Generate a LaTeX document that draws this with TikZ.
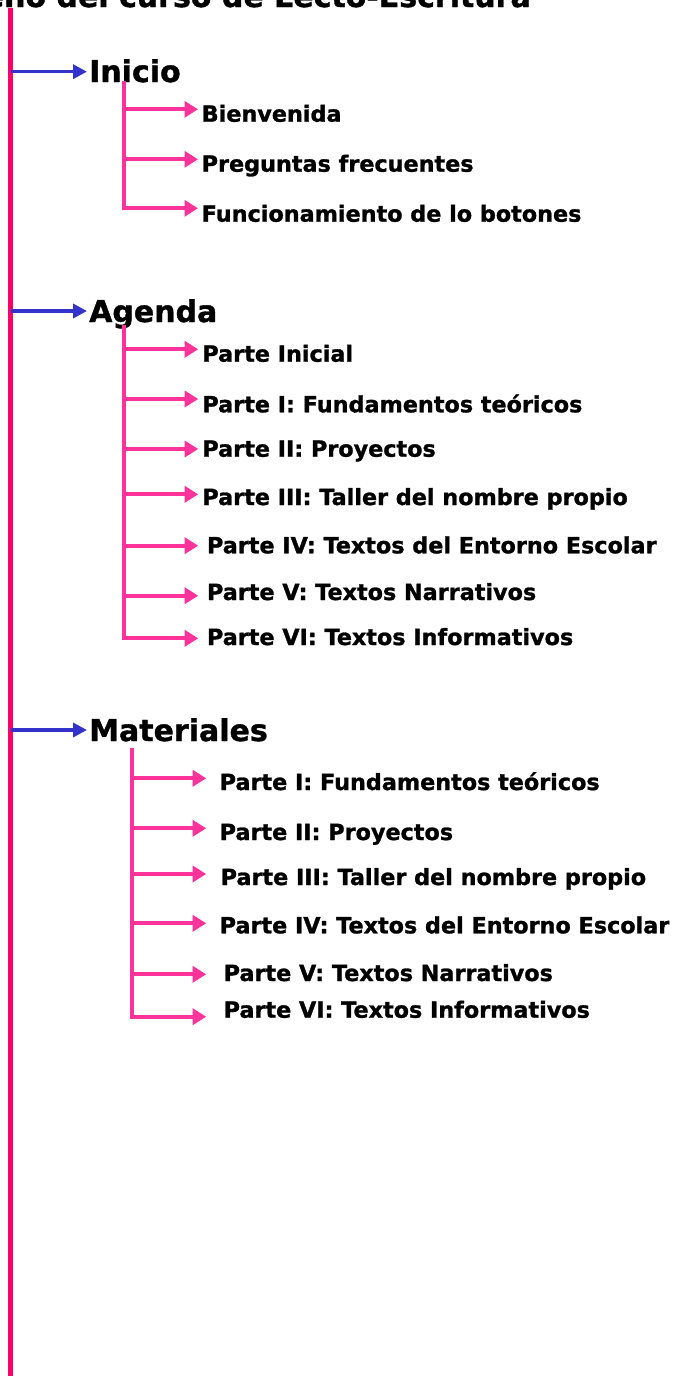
\documentclass[tikz,border=0pt]{standalone}
\usepackage{fontspec}
\setmainfont{DejaVu Sans}[BoldFeatures={FakeBold=1.2}]
\usetikzlibrary{arrows.meta, positioning, calc}
\definecolor{spinepink}{RGB}{255,0,102}
\definecolor{headblue}{RGB}{51,51,204}
\definecolor{branchpink}{RGB}{255,51,153}
\tikzset{
  head/.style={anchor=base west, inner sep=0pt, font=\fontsize{30}{36}\selectfont\bfseries},
  item/.style={anchor=base west, inner sep=0pt, font=\fontsize{22.3}{26}\selectfont\bfseries},
  headarrow/.style={draw=headblue, line width=3.4pt, -{Triangle[length=14pt,width=14pt]}},
  branch/.style={draw=branchpink, line width=4pt, line cap=rect},
  itemarrow/.style={draw=branchpink, line width=4pt, -{Triangle[length=13.5pt,width=16pt]}}
}

\begin{document}
\begin{tikzpicture}[x=1pt,y=-1pt]
      \useasboundingbox (0,0) rectangle (679,1376);

      \node[head, anchor=base east] (title) at (531,7) {Diseño del curso de Lecto-Escritura};

      \coordinate (spine-top) at (10.5,8);
      \coordinate (spine-end) at (10.5,1376);
      \draw[spinepink, line width=5pt] (spine-top) -- (spine-end);

      \foreach \nm/\y/\b/\txt in {inicio/71.7/82/Inicio, agenda/311/322/Agenda, materiales/730/741/Materiales}{
        \coordinate (h-\nm) at (10.5,\y);
        \node[head] (\nm) at (89,\b) {\txt};
        \draw[headarrow, shorten >=2pt] (h-\nm) -- (h-\nm -| \nm.west);
      }

      \coordinate (ini-top) at (123.7,83);
      \coordinate (ini-end) at (123.7,208.3);
      \draw[branch] (ini-top) -- (ini-end);
      \foreach \nm/\y/\b/\tx/\gap/\txt in {
          bien/109.3/121.7/201.5/3.5/Bienvenida,
          preg/159.3/171.7/201.5/3.5/Preguntas frecuentes,
          func/208.3/221.7/201.5/3.5/Funcionamiento de lo botones}{
        \coordinate (b-\nm) at (123.7,\y);
        \node[item] (\nm) at (\tx,\b) {\txt};
        \draw[itemarrow, shorten >=\gap pt] (b-\nm) -- (b-\nm -| \nm.west);
      }

      \coordinate (age-top) at (123.7,327);
      \coordinate (age-end) at (123.7,638.3);
      \draw[branch] (age-top) -- (age-end);
      \foreach \nm/\y/\b/\tx/\gap/\txt in {
          aini/349.3/361.7/202.2/4/Parte Inicial,
          apI/399/412.3/202.2/4/Parte I: Fundamentos teóricos,
          apII/449/456.7/202.2/4/Parte II: Proyectos,
          apIII/494.3/505/202.2/4/Parte III: Taller del nombre propio,
          apIV/545.7/553.3/206.8/8.6/Parte IV: Textos del Entorno Escolar,
          apV/595.7/600/206.8/8.6/Parte V: Textos Narrativos,
          apVI/638.3/645/206.8/8.6/Parte VI: Textos Informativos}{
        \coordinate (b-\nm) at (123.7,\y);
        \node[item] (\nm) at (\tx,\b) {\txt};
        \draw[itemarrow, shorten >=\gap pt] (b-\nm) -- (b-\nm -| \nm.west);
      }

      \coordinate (mat-top) at (132,750);
      \coordinate (mat-end) at (132,1016.7);
      \draw[branch] (mat-top) -- (mat-end);
      \foreach \nm/\y/\b/\tx/\gap/\txt in {
          mpI/778.3/790/219.5/13.3/Parte I: Fundamentos teóricos,
          mpII/828.3/840/219.5/13.3/Parte II: Proyectos,
          mpIII/874/885/220.5/14.3/Parte III: Taller del nombre propio,
          mpIV/923.3/933.3/219.5/13.3/Parte IV: Textos del Entorno Escolar,
          mpV/974.3/981/223.5/17.3/Parte V: Textos Narrativos,
          mpVI/1016.7/1017.7/223.5/17.3/Parte VI: Textos Informativos}{
        \coordinate (b-\nm) at (132,\y);
        \node[item] (\nm) at (\tx,\b) {\txt};
        \draw[itemarrow, shorten >=\gap pt] (b-\nm) -- (b-\nm -| \nm.west);
      }
\end{tikzpicture}
\end{document}
